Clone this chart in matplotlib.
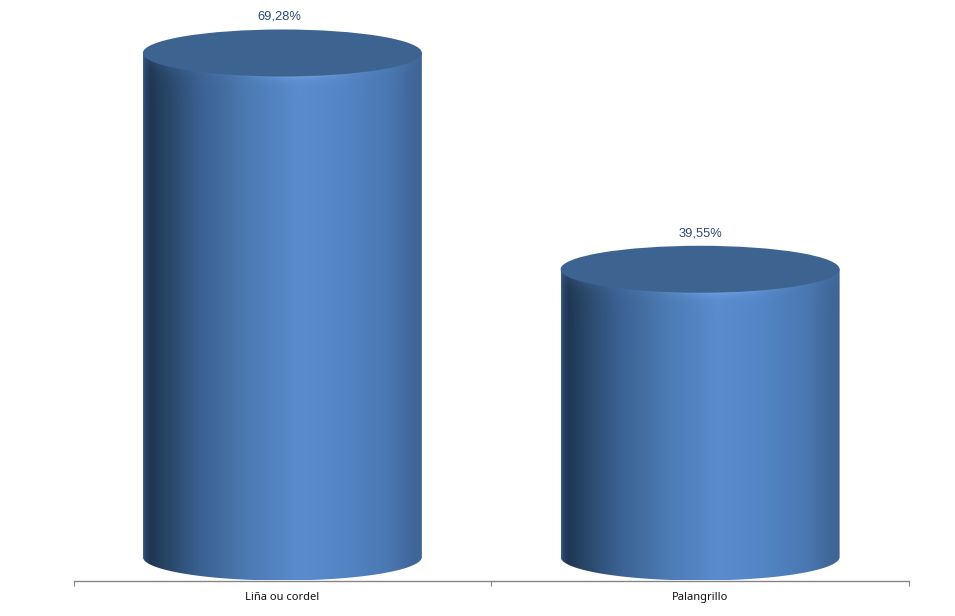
#!/usr/bin/env python
"""
3D look cylinder columns, two categories
"""

import numpy as np
import matplotlib
matplotlib.use('Agg')
import matplotlib.pyplot as plt
import matplotlib.patches as mpa
from matplotlib.path import Path
from matplotlib.colors import to_rgb

categories = ['Liña ou cordel', 'Palangrillo']
values = [69.28, 39.55]
value_labels = ['69,28%', '39,55%']

# figure geometry in pixels
W, H = 955, 616
left, right = 73.5, 909.0
axis_y = 580.5
base_y = 557.0
px_per_unit = 7.275
cyl_w_px = 279.0
cyl_h_px = 23.5   # half height of the ellipse
label_dx = [-3, 0]  # value labels are not quite centred in the original

# horizontal shading of the column body
stops = [0.0, 0.006, 0.025, 0.06, 0.2, 0.38, 0.56, 0.70, 0.88, 0.97, 1.0]
stop_cols = ['#3a5c88', '#2b4668', '#1f3553', '#25405f', '#3a6090', '#4c7bb4',
             '#5a8bcd', '#5587c8', '#4a78b2', '#41669a', '#3f6595']
stop_rgb = np.array([to_rgb(c) for c in stop_cols])
top_col = '#3d6491'
text_col = '#2a4a78'
axis_col = '#868686'

fig = plt.figure(figsize=(W / 100, H / 100), dpi=100)
ax = fig.add_axes([left / W, (H - axis_y) / H, (right - left) / W, axis_y / H])


def draw_cylinder(ax, xc, value):
    half_w = cyl_w_px / (right - left) * len(categories) / 2
    ry = cyl_h_px / px_per_unit
    body_px = value * px_per_unit

    # body shading on a pixel grid, row 0 is the top of the column
    nx, ny = int(cyl_w_px), int(body_px + 2 * cyl_h_px)
    u = np.linspace(-1, 1, nx)
    ys = np.linspace(-cyl_h_px, body_px + cyl_h_px, ny)
    U, Y = np.meshgrid(u, ys)
    img = np.dstack([np.interp((U + 1) / 2, stops, stop_rgb[:, i]) for i in range(3)])
    edge = cyl_h_px * np.sqrt(1 - U**2)

    # light rim just under the top face, strongest in the middle
    d_top = np.clip(Y - edge, 0, None)
    centre = np.exp(-(U - 0.15)**2 / 0.18)
    rim = 0.6 * np.exp(-d_top / 4.0) * centre
    img = img * (1 - rim[..., None]) + np.array(to_rgb('#7db0f0')) * rim[..., None]
    side = 0.28 * np.exp(-d_top / 8.0) * (1 - centre)
    img = img * (1 - side[..., None]) + np.array(to_rgb('#4a74a8')) * side[..., None]

    im = ax.imshow(img, extent=[xc - half_w, xc + half_w, -ry, value + ry],
                   origin='upper', aspect='auto', interpolation='bilinear', zorder=1)

    t = np.linspace(0, np.pi, 120)
    verts = [(xc - half_w, value)]
    verts += list(zip(xc - half_w * np.cos(t), -ry * np.sin(t)))
    verts += [(xc + half_w, value), (xc - half_w, value)]
    clip = mpa.PathPatch(Path(verts), transform=ax.transData, fc='none', ec='none')
    ax.add_patch(clip)
    im.set_clip_path(clip)

    top = mpa.Ellipse((xc, value), 2 * half_w, 2 * ry, fc=top_col, ec='none', zorder=1.5)
    ax.add_patch(top)


x_pos = np.arange(len(categories)) + 0.5
for xc, val, lab, dx in zip(x_pos, values, value_labels, label_dx):
    draw_cylinder(ax, xc, val)
    ax.annotate(lab, (xc, val), xytext=(dx * 0.72, 36 * 0.72), textcoords='offset points',
                ha='center', va='center', color=text_col, fontsize=9.3,
                family='Liberation Sans')

ax.set_xlim(0, len(categories))
ax.set_ylim(-(axis_y - base_y) / px_per_unit, base_y / px_per_unit)
for s in ['top', 'left', 'right']:
    ax.spines[s].set_visible(False)
ax.spines['bottom'].set_color(axis_col)
ax.spines['bottom'].set_linewidth(1.0)
ax.set_yticks([])
ax.set_xticks(np.arange(len(categories) + 1))
ax.set_xticklabels([])
ax.tick_params(axis='x', which='major', length=3.5, width=0.8, color=axis_col)
ax.set_xticks(x_pos, minor=True)
ax.set_xticklabels(categories, minor=True, fontsize=8.0, family='Noto Sans', color='#111111')
ax.tick_params(axis='x', which='minor', length=0, pad=8.0)
ax.patch.set_alpha(0)

fig.savefig('out.png', dpi=100, facecolor='white')
